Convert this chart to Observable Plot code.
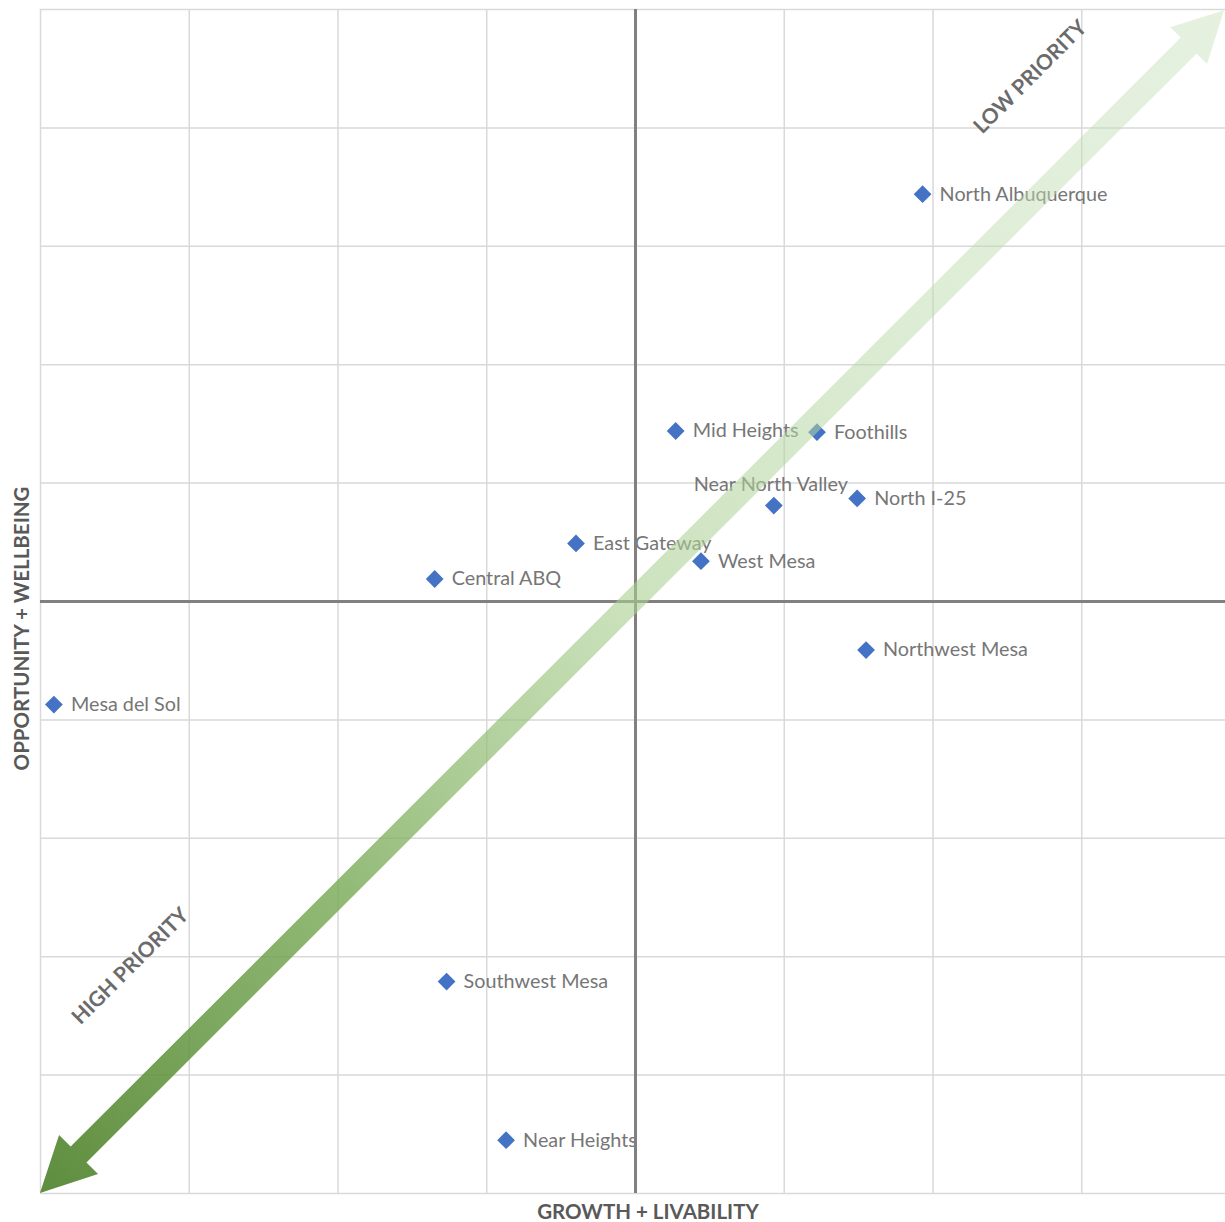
<!DOCTYPE html>
<html><head><meta charset="utf-8">
<script src="https://cdn.jsdelivr.net/npm/d3@7"></script>
<script src="https://cdn.jsdelivr.net/npm/@observablehq/plot@0.6"></script>
<style>html,body{margin:0;padding:0;background:#fff;overflow:hidden}#chart svg{display:block}</style>
</head><body><div id="chart"></div>
<script>
// ---- data ----
const names = ["North Albuquerque","Mid Heights","Foothills","Near North Valley","North I-25","East Gateway","West Mesa","Central ABQ","Northwest Mesa","Mesa del Sol","Southwest Mesa","Near Heights"];
const growth = [1.93, 0.27, 1.22, 0.93, 1.49, -0.40, 0.44, -1.35, 1.55, -3.91, -1.27, -0.87];
const opportunity = [3.44, 1.44, 1.43, 0.81, 0.87, 0.49, 0.34, 0.19, -0.41, -0.87, -3.21, -4.55];
const labelAbove = ["Near North Valley"];
const xTicks = [-4,-3,-2,-1,0,1,2,3,4];
const yTicks = [-5,-4,-3,-2,-1,0,1,2,3,4,5];
const arrowX = [-4, 3.96];
const arrowY = [-5, 4.99];
const priorityLabels = ["LOW PRIORITY","HIGH PRIORITY"];
const priorityX = [2.655, -3.395];
const priorityY = [4.43, -3.08];
const xTitle = "GROWTH + LIVABILITY";
const yTitle = "OPPORTUNITY + WELLBEING";

const pts = names.map((n,i)=>({name:n, x:growth[i], y:opportunity[i]}));
const ptsRight = pts.filter(d=>!labelAbove.includes(d.name));
const ptsAbove = pts.filter(d=>labelAbove.includes(d.name));
const pri = priorityLabels.map((t,i)=>({t, x:priorityX[i], y:priorityY[i]}));

const FONT = "Lato, 'Open Sans', sans-serif";
const W = 1225, H = 1222;

const plot = Plot.plot({
  width: W, height: H,
  marginLeft: 40, marginTop: 9, marginRight: 0, marginBottom: 29,
  x: {domain:[-4,4], range:[40,1230], axis:null},
  y: {domain:[-5,5], range:[1193,9], axis:null},
  style: {fontFamily: FONT, background:"#fff"},
  marks: [
    Plot.ruleX(xTicks, {stroke:"#d9d9d9", strokeWidth:1.5}),
    Plot.ruleY(yTicks, {stroke:"#d9d9d9", strokeWidth:1.5}),
    Plot.dot(pts, {x:"x", y:"y", symbol: d3.symbolDiamond2, r:8, fill:"#4472C4", stroke:"none"}),
    Plot.text(ptsRight, {x:"x", y:"y", text:"name", textAnchor:"start", dx:17, fill:"#767676", fontSize:19.8, fontFamily:FONT}),
    Plot.text(ptsAbove, {x:"x", y:"y", text:"name", textAnchor:"middle", dx:-3, dy:-21, fill:"#767676", fontSize:19.8, fontFamily:FONT}),
    Plot.ruleX([0], {stroke:"#808080", strokeWidth:3}),
    Plot.ruleY([0], {stroke:"#808080", strokeWidth:3}),
    Plot.text(pri, {x:"x", y:"y", text:"t", rotate:-45, fill:"#6b6b6b", fontSize:21, fontWeight:"bold", fontFamily:FONT}),
    Plot.text([xTitle], {frameAnchor:"bottom", textAnchor:"middle", dx:15, dy:25, fill:"#595959", fontSize:20.5, fontWeight:"bold", fontFamily:FONT}),
    Plot.text([yTitle], {frameAnchor:"left", textAnchor:"middle", rotate:-90, dx:-18, dy:27, fill:"#595959", fontSize:20.5, fontWeight:"bold", fontFamily:FONT})
  ]
});

// ---- gradient double arrow drawn with the plot's own scales ----
function getScale(name){
  const s = plot.scale(name);
  if (s && typeof s.apply === "function") return v => s.apply(v);
  const f = d3.scaleLinear(s.domain, s.range);
  return v => f(v);
}
const sx = getScale("x"), sy = getScale("y");
const P0 = [sx(arrowX[0]), sy(arrowY[0])];  // bottom-left tip
const P1 = [sx(arrowX[1]), sy(arrowY[1])];  // top-right tip
const dxp = P1[0]-P0[0], dyp = P1[1]-P0[1];
const len = Math.hypot(dxp, dyp);
const u = [dxp/len, dyp/len];
const n = [-u[1], u[0]];
const w = 11.2;
const pt = (base, a, b) => [base[0]+u[0]*a+n[0]*b, base[1]+u[1]*a+n[1]*b];
const L0 = 54.5, H0 = 27.6, L1 = 50, H1 = 26;
const poly = [
  P0,
  pt(P0, L0, H0), pt(P0, L0, w),
  pt(P1, -L1, w), pt(P1, -L1, H1),
  P1,
  pt(P1, -L1, -H1), pt(P1, -L1, -w),
  pt(P0, L0, -w), pt(P0, L0, -H0)
];
const svgSel = d3.select(plot);
const defs = svgSel.append("defs");
const grad = defs.append("linearGradient").attr("id","arrowGrad")
  .attr("gradientUnits","userSpaceOnUse")
  .attr("x1",P1[0]).attr("y1",P1[1]).attr("x2",P0[0]).attr("y2",P0[1]);
[[0,"#c7e0ba",0.45],[0.25,"#bddbad",0.5],[0.5,"#aacf91",0.6],[0.74,"#78aa56",0.8],[1,"#50832d",0.92]]
  .forEach(([o,c,a])=>grad.append("stop").attr("offset",o).attr("stop-color",c).attr("stop-opacity",a));
svgSel.append("polygon")
  .attr("points", poly.map(p=>p.join(",")).join(" "))
  .attr("fill","url(#arrowGrad)");

document.getElementById("chart").appendChild(plot);
</script>
</body></html>
